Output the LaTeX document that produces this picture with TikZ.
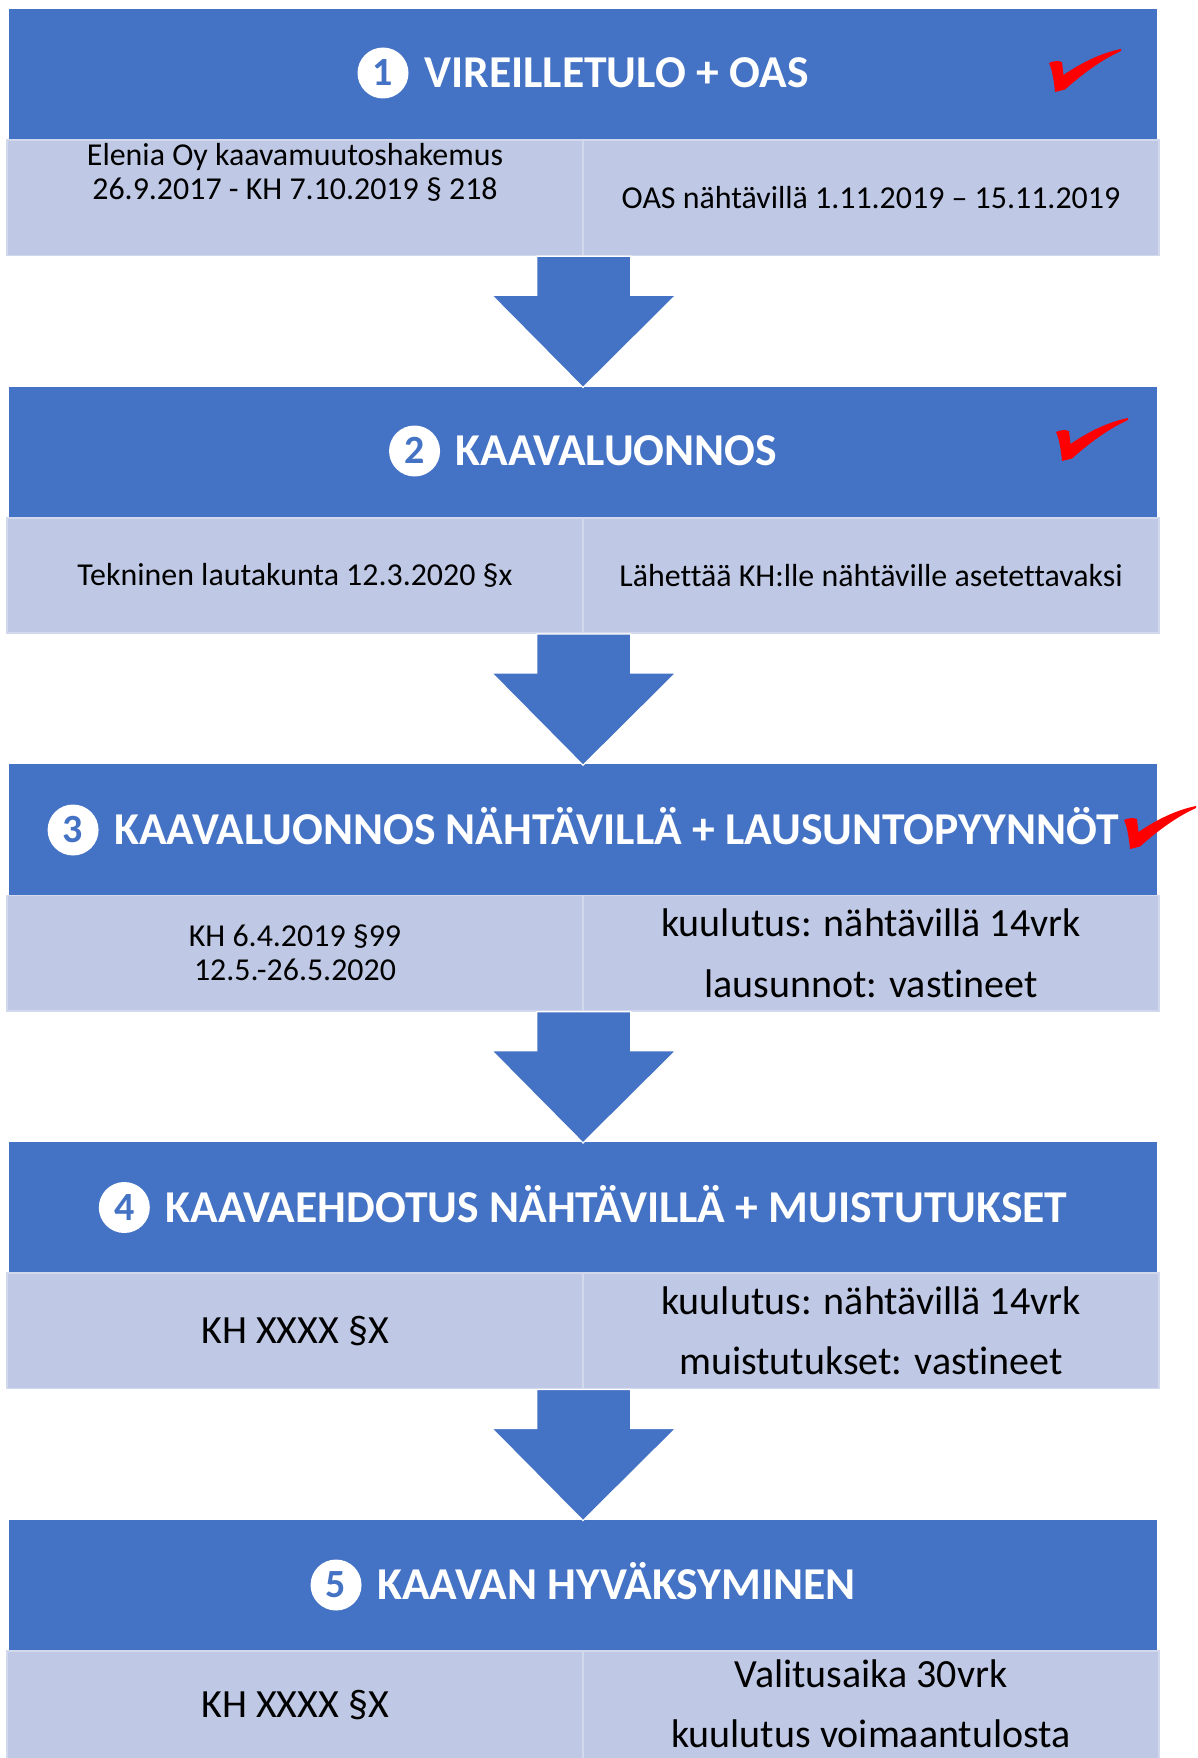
\documentclass[tikz,border=0pt]{standalone}
\usepackage{fontspec}
\setmainfont{Carlito}[Ligatures=NoCommon]
\usetikzlibrary{calc}
\definecolor{hdr}{HTML}{4472C4}
\definecolor{cellfill}{HTML}{BFC9E5}
\definecolor{cellline}{HTML}{D3D9ED}
\definecolor{chk}{HTML}{FF0000}
\tikzset{
  hdrbox/.style={fill=hdr, draw=none, minimum width=1148pt, minimum height=131pt, inner sep=0pt},
  hdrtext/.style={text=white, inner sep=0pt, text height=29pt, text depth=0pt, font=\bfseries\fontsize{45.6}{54}\selectfont},
  numcirc/.style={circle, fill=white, minimum size=51pt, inner sep=0pt, text height=25pt, text depth=0pt, text=hdr, font=\bfseries\fontsize{40}{40}\selectfont},
  cellbox/.style={fill=cellfill, draw=cellline, line width=1.6pt, minimum width=576pt, minimum height=115.5pt, inner sep=0pt},
  smalltext/.style={align=center, inner sep=0pt, font=\fontsize{31.9}{34}\selectfont},
  bigtext/.style={align=center, inner sep=0pt, font=\fontsize{40}{60.5}\selectfont},
  bigarrow/.style={fill=hdr, draw=white, line width=1.2pt, line join=miter},
  checkmark/.pic={
    \fill[chk] (0,14) .. controls (4,12) and (9,11.5) .. (13,13)
      .. controls (13.5,18) and (14,22) .. (14.5,26)
      .. controls (32,14) and (52,4) .. (72,0)
      .. controls (73,1) and (72,2) .. (71,2.5)
      .. controls (50,12) and (30,28) .. (16,40.5)
      -- (6,43)
      .. controls (5,32) and (3,20) .. cycle;
  }
}
\begin{document}
\begin{tikzpicture}[x=1pt,y=-1pt]
\clip (0,0) rectangle (1198,1758);
\fill[white] (0,0) rectangle (1198,1758);

% ---------- Box 1
\node[hdrbox] (h1) at (583,74.5) {};
\node[cellbox] (c1l) at (295,197.75) {};
\node[cellbox] (c1r) at (871,197.75) {};
\node[hdrtext] (t1) at (616.4,73) {VIREILLETULO + OAS};
\node[numcirc] (n1) at ($(t1.west)+(-41,0)$) {1};
\node[smalltext] (x1l) at ($(c1l.north)+(0,33)$) {Elenia Oy kaavamuutoshakemus\\26.9.2017 - KH 7.10.2019 § 218};
\node[smalltext] (x1r) at (c1r.center) {OAS nähtävillä 1.11.2019 – 15.11.2019};
\pic at (1049,49) {checkmark};

% ---------- Box 2
\node[hdrbox] (h2) at (583,452.2) {};
\node[cellbox] (c2l) at (295,575.45) {};
\node[cellbox] (c2r) at (871,575.45) {};
\node[hdrtext] (t2) at (616.4,451) {KAAVALUONNOS};
\node[numcirc] (n2) at ($(t2.west)+(-41,0)$) {2};
\node[smalltext] (x2l) at (c2l.center) {Tekninen lautakunta 12.3.2020 §x};
\node[smalltext] (x2r) at (c2r.center) {Lähettää KH:lle nähtäville asetettavaksi};
\pic at (1056,418) {checkmark};

% ---------- Box 3
\node[hdrbox] (h3) at (583,829.9) {};
\node[cellbox] (c3l) at (295,953.15) {};
\node[cellbox] (c3r) at (871,953.15) {};
\node[hdrtext] (t3) at (616.4,830) {KAAVALUONNOS NÄHTÄVILLÄ + LAUSUNTOPYYNNÖT};
\node[numcirc] (n3) at ($(t3.west)+(-41,0)$) {3};
\node[smalltext] (x3l) at (c3l.center) {KH 6.4.2019 §99\\12.5.-26.5.2020};
\node[bigtext] (x3r) at (c3r.center) {kuulutus: nähtävillä 14vrk\\lausunnot: vastineet};
\pic at (1124,806) {checkmark};

% ---------- Box 4
\node[hdrbox] (h4) at (583,1207.6) {};
\node[cellbox] (c4l) at (295,1330.85) {};
\node[cellbox] (c4r) at (871,1330.85) {};
\node[hdrtext] (t4) at (616.4,1207.5) {KAAVAEHDOTUS NÄHTÄVILLÄ + MUISTUTUKSET};
\node[numcirc] (n4) at ($(t4.west)+(-41,0)$) {4};
\node[bigtext] (x4l) at (c4l.center) {KH XXXX §X};
\node[bigtext] (x4r) at (c4r.center) {kuulutus: nähtävillä 14vrk\\muistutukset: vastineet};

% ---------- Box 5
\node[hdrbox] (h5) at (583,1585.3) {};
\node[cellbox] (c5l) at (295,1708.55) {};
\node[cellbox] (c5r) at (871,1708.55) {};
\node[hdrtext] (t5) at (616.4,1585) {KAAVAN HYVÄKSYMINEN};
\node[numcirc] (n5) at ($(t5.west)+(-41,0)$) {5};
\node[bigtext] (x5l) at ($(c5l.center)+(0,-4)$) {KH XXXX §X};
\node[bigtext] (x5r) at ($(c5r.center)+(0,-5)$) {Valitusaika 30vrk\\kuulutus voimaantulosta};

% ---------- Arrows
\foreach \a/\b in {c1l/h2, c2l/h3, c3l/h4, c4l/h5}{
  \path (\a.south east) coordinate (s) (\b.north) coordinate (t);
  \draw[bigarrow] ($(s)+(-47,0)$) -- ($(s)+(47,0)$) -- ($(s)+(47,39)$) -- ($(s)+(92,39)$)
    -- ($(t)+(0,1)$) -- ($(s)+(-92,39)$) -- ($(s)+(-47,39)$) -- cycle;
}
\end{tikzpicture}
\end{document}
